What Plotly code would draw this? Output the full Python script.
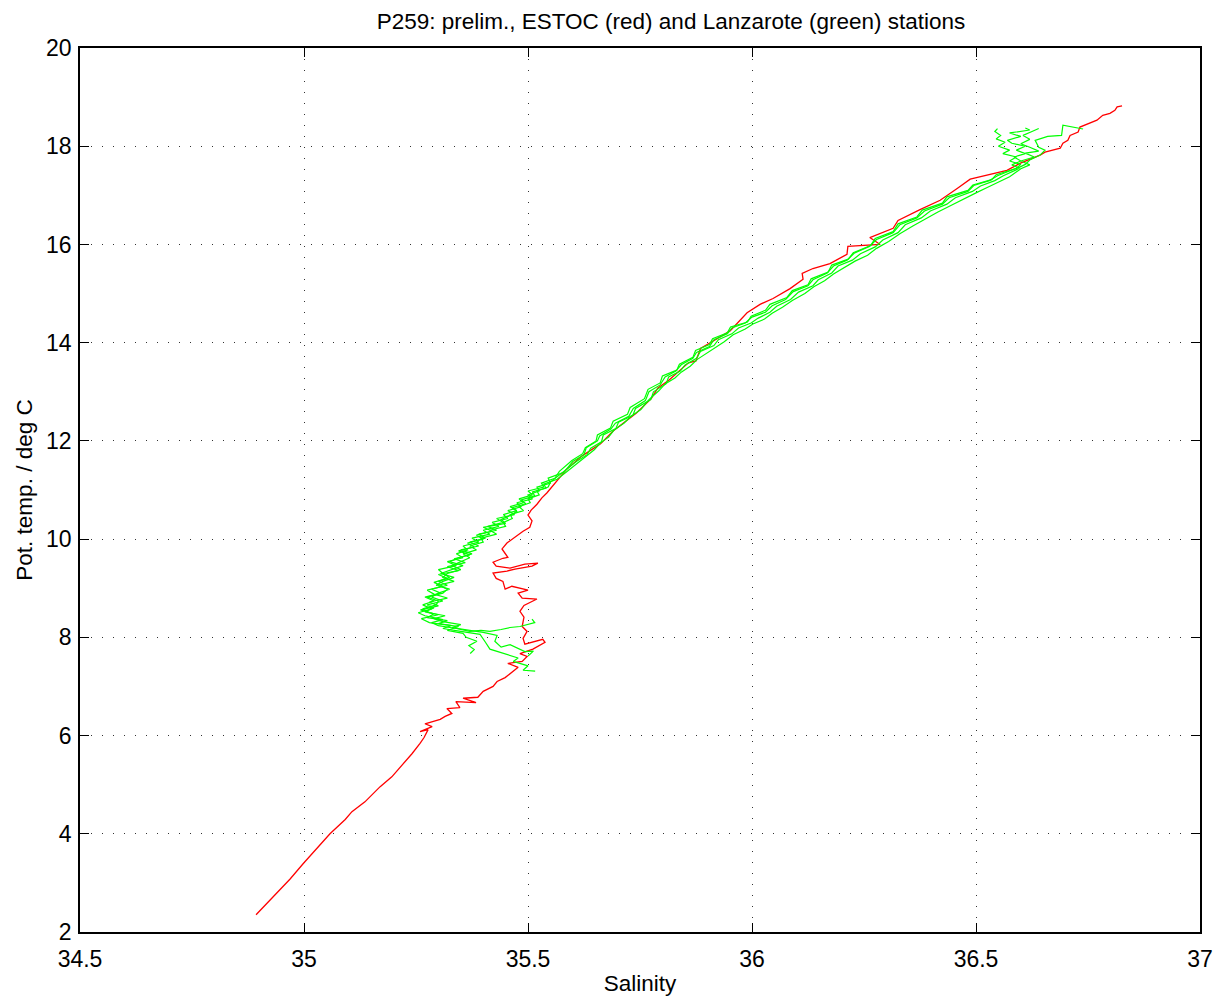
import plotly.graph_objects as go

# ---------------- data ----------------
# ESTOC station (red)
red_S = [34.893, 34.924, 34.969, 34.998, 35.031, 35.058, 35.092, 35.107, 35.136, 35.170,
         35.196, 35.221, 35.241, 35.259, 35.268, 35.277, 35.259, 35.286, 35.270, 35.304,
         35.315, 35.330, 35.319, 35.348, 35.339, 35.384, 35.355, 35.388, 35.400, 35.422,
         35.431, 35.449, 35.467, 35.478, 35.455, 35.487, 35.498, 35.482, 35.511, 35.538,
         35.533, 35.493, 35.489, 35.498, 35.487, 35.491, 35.482, 35.491, 35.520, 35.487,
         35.478, 35.500, 35.464, 35.449, 35.444, 35.429, 35.422, 35.453, 35.471, 35.509,
         35.522, 35.493, 35.460, 35.429, 35.422, 35.444, 35.455, 35.442, 35.453, 35.467,
         35.489, 35.504, 35.509, 35.500, 35.507, 35.520, 35.531, 35.542, 35.556, 35.571,
         35.585, 35.620, 35.662, 35.690, 35.742, 35.775, 35.790, 35.815, 35.858, 35.875,
         35.885, 35.922, 35.951, 35.989, 36.018, 36.047, 36.085, 36.114, 36.112, 36.136,
         36.174, 36.212, 36.214, 36.286, 36.263, 36.315, 36.326, 36.375, 36.420, 36.458,
         36.487, 36.569, 36.598, 36.643, 36.654, 36.688, 36.694, 36.705, 36.710, 36.728,
         36.732, 36.770, 36.783, 36.799, 36.810, 36.815, 36.826]
red_T = [2.35, 2.65, 3.08, 3.39, 3.73, 4.00, 4.29, 4.45, 4.65, 4.96,
         5.16, 5.41, 5.63, 5.84, 5.96, 6.12, 6.08, 6.18, 6.24, 6.33,
         6.39, 6.45, 6.55, 6.57, 6.69, 6.67, 6.76, 6.78, 6.90, 7.00,
         7.10, 7.18, 7.31, 7.39, 7.47, 7.51, 7.61, 7.67, 7.76, 7.90,
         7.96, 7.86, 7.98, 8.12, 8.22, 8.41, 8.53, 8.65, 8.78, 8.80,
         8.90, 8.96, 9.04, 8.98, 9.14, 9.20, 9.31, 9.35, 9.39, 9.45,
         9.51, 9.49, 9.41, 9.45, 9.53, 9.61, 9.63, 9.80, 9.92, 10.02,
         10.16, 10.24, 10.37, 10.49, 10.59, 10.71, 10.84, 10.94, 11.10, 11.27,
         11.41, 11.69, 11.94, 12.20, 12.57, 12.86, 13.08, 13.24, 13.59, 13.63,
         13.88, 14.08, 14.24, 14.61, 14.78, 14.90, 15.10, 15.29, 15.41, 15.51,
         15.61, 15.80, 15.96, 16.00, 16.14, 16.33, 16.49, 16.71, 16.90, 17.14,
         17.33, 17.51, 17.65, 17.82, 17.88, 17.96, 18.06, 18.12, 18.22, 18.29,
         18.39, 18.53, 18.63, 18.67, 18.73, 18.80, 18.82]

# Lanzarote stations (green), four casts
g1_S = [35.516, 35.489, 35.500, 35.467, 35.478, 35.453, 35.430, 35.415, 35.405, 35.393,
        35.350, 35.310, 35.330, 35.280, 35.262, 35.300, 35.270, 35.290, 35.275, 35.310,
        35.285, 35.300, 35.325, 35.295, 35.310, 35.335, 35.305, 35.330, 35.355, 35.325,
        35.345, 35.375, 35.350, 35.390, 35.370, 35.405, 35.390, 35.430, 35.410, 35.445,
        35.430, 35.470, 35.455, 35.485, 35.475, 35.510, 35.500, 35.525, 35.520, 35.550,
        35.545, 35.580,
        35.600, 35.625, 35.630, 35.655, 35.660, 35.685, 35.695, 35.725, 35.735, 35.762,
        35.770, 35.795, 35.806, 35.830, 35.842, 35.868, 35.876, 35.905, 35.915, 35.945,
        35.955, 35.985, 36.000, 36.030, 36.045, 36.075, 36.092, 36.125, 36.136, 36.168,
        36.182, 36.212, 36.228, 36.262, 36.278, 36.315, 36.330, 36.368, 36.385, 36.425,
        36.440, 36.482, 36.495, 36.530, 36.548, 36.590,
        36.600, 36.575, 36.590, 36.560, 36.575, 36.550, 36.565, 36.545, 36.555, 36.542, 36.548]
g1_T = [7.31, 7.33, 7.42, 7.51, 7.58, 7.65, 7.72, 7.76, 7.90, 8.06,
        8.12, 8.18, 8.24, 8.30, 8.38, 8.46, 8.52, 8.60, 8.66, 8.74,
        8.82, 8.90, 8.98, 9.06, 9.14, 9.22, 9.30, 9.38, 9.46, 9.54,
        9.62, 9.70, 9.78, 9.86, 9.94, 10.02, 10.10, 10.18, 10.26, 10.34,
        10.42, 10.50, 10.58, 10.66, 10.74, 10.82, 10.90, 10.98, 11.06, 11.14,
        11.24, 11.36,
        11.58, 11.72, 11.86, 12.00, 12.10, 12.24, 12.36, 12.50, 12.66, 12.82,
        13.00, 13.14, 13.30, 13.42, 13.55, 13.68, 13.80, 13.92, 14.06, 14.18,
        14.30, 14.40, 14.52, 14.62, 14.75, 14.88, 15.04, 15.16, 15.28, 15.42,
        15.56, 15.68, 15.82, 15.96, 16.10, 16.24, 16.40, 16.54, 16.68, 16.82,
        16.95, 17.08, 17.20, 17.30, 17.40, 17.55,
        17.63, 17.70, 17.78, 17.85, 17.92, 18.00, 18.08, 18.15, 18.22, 18.30, 18.36]

g2_S = [35.371, 35.380, 35.368, 35.386, 35.362, 35.355, 35.320, 35.345, 35.300, 35.320,
        35.275, 35.290, 35.260, 35.300, 35.280, 35.320, 35.290, 35.275, 35.310, 35.290,
        35.320, 35.300, 35.345, 35.320, 35.360, 35.335, 35.370, 35.345, 35.380, 35.365,
        35.400, 35.385, 35.420, 35.400, 35.450, 35.440, 35.460, 35.475, 35.465, 35.495,
        35.485, 35.515, 35.510, 35.540, 35.535, 35.565, 35.585,
        35.612, 35.630, 35.648, 35.662, 35.680, 35.692, 35.714, 35.730, 35.752, 35.770,
        35.792, 35.806, 35.828, 35.842, 35.862, 35.878, 35.898, 35.915, 35.938, 35.958,
        35.985, 36.002, 36.028, 36.045, 36.068, 36.090, 36.118, 36.138, 36.162, 36.182,
        36.208, 36.230, 36.258, 36.278, 36.305, 36.330, 36.360, 36.386, 36.415, 36.445,
        36.472, 36.500, 36.525, 36.552, 36.575, 36.600,
        36.620, 36.600, 36.630, 36.610, 36.640, 36.620, 36.600, 36.620, 36.605, 36.625, 36.640]
g2_T = [7.67, 7.75, 7.83, 7.92, 8.00, 8.08, 8.14, 8.22, 8.28, 8.34,
        8.40, 8.48, 8.56, 8.64, 8.72, 8.80, 8.88, 8.96, 9.04, 9.12,
        9.20, 9.28, 9.36, 9.44, 9.52, 9.60, 9.68, 9.76, 9.84, 9.92,
        10.00, 10.08, 10.16, 10.24, 10.32, 10.40, 10.48, 10.56, 10.64, 10.72,
        10.80, 10.88, 10.96, 11.04, 11.12, 11.22, 11.36,
        11.56, 11.70, 11.82, 11.96, 12.08, 12.22, 12.36, 12.50, 12.64, 12.84,
        13.02, 13.16, 13.28, 13.40, 13.52, 13.66, 13.78, 13.90, 14.02, 14.16,
        14.28, 14.38, 14.48, 14.60, 14.72, 14.86, 15.00, 15.14, 15.26, 15.40,
        15.54, 15.66, 15.78, 15.92, 16.06, 16.22, 16.38, 16.52, 16.66, 16.80,
        16.93, 17.05, 17.16, 17.28, 17.38, 17.54,
        17.62, 17.70, 17.78, 17.86, 17.90, 17.98, 18.05, 18.14, 18.22, 18.30, 18.36]

g3_S = [35.509, 35.515, 35.482, 35.460, 35.440, 35.415, 35.395, 35.370, 35.340, 35.300,
        35.285, 35.310, 35.270, 35.255, 35.285, 35.265, 35.290, 35.270, 35.305, 35.285,
        35.320, 35.300, 35.325, 35.310, 35.300, 35.340, 35.320, 35.355, 35.340, 35.365,
        35.355, 35.390, 35.375, 35.415, 35.400, 35.435, 35.420, 35.455, 35.445, 35.475,
        35.460, 35.490, 35.480, 35.510, 35.500, 35.535, 35.530, 35.560, 35.570,
        35.598, 35.622, 35.628, 35.652, 35.655, 35.684, 35.690, 35.722, 35.728, 35.760,
        35.768, 35.795, 35.800, 35.832, 35.838, 35.868, 35.874, 35.905, 35.912, 35.945,
        35.952, 35.990, 35.998, 36.030, 36.040, 36.078, 36.090, 36.125, 36.132, 36.170,
        36.178, 36.215, 36.226, 36.265, 36.275, 36.315, 36.326, 36.368, 36.380, 36.425,
        36.435, 36.482, 36.493, 36.535, 36.545, 36.594,
        36.610, 36.620, 36.643, 36.654, 36.640, 36.632, 36.660, 36.691, 36.694, 36.739]
g3_T = [8.37, 8.30, 8.22, 8.20, 8.16, 8.12, 8.14, 8.12, 8.18, 8.24,
        8.30, 8.36, 8.44, 8.50, 8.58, 8.66, 8.74, 8.82, 8.90, 8.98,
        9.06, 9.14, 9.22, 9.30, 9.38, 9.46, 9.54, 9.62, 9.70, 9.78,
        9.86, 9.94, 10.02, 10.10, 10.18, 10.26, 10.34, 10.42, 10.50, 10.58,
        10.66, 10.74, 10.82, 10.90, 10.98, 11.06, 11.14, 11.24, 11.38,
        11.60, 11.74, 11.86, 12.00, 12.12, 12.26, 12.40, 12.54, 12.68, 12.86,
        13.05, 13.18, 13.32, 13.44, 13.56, 13.70, 13.84, 13.96, 14.08, 14.20,
        14.32, 14.42, 14.54, 14.66, 14.78, 14.92, 15.06, 15.18, 15.30, 15.44,
        15.58, 15.70, 15.83, 15.98, 16.12, 16.26, 16.42, 16.56, 16.70, 16.84,
        16.97, 17.10, 17.21, 17.32, 17.42, 17.56,
        17.63, 17.72, 17.82, 17.92, 17.98, 18.12, 18.20, 18.22, 18.43, 18.35]

g4_S = [35.500, 35.512, 35.493, 35.470, 35.460, 35.440, 35.426, 35.431, 35.400, 35.370,
        35.330, 35.350, 35.310, 35.290, 35.315, 35.280, 35.265, 35.295, 35.300, 35.275,
        35.310, 35.320, 35.300, 35.335, 35.310, 35.320, 35.350, 35.330, 35.350, 35.370,
        35.355, 35.385, 35.370, 35.400, 35.395, 35.430, 35.415, 35.450, 35.445, 35.465,
        35.460, 35.490, 35.480, 35.505, 35.500, 35.525, 35.520, 35.545, 35.550, 35.575,
        35.608, 35.632, 35.640, 35.664, 35.668, 35.696, 35.702, 35.734, 35.740, 35.774,
        35.780, 35.808, 35.814, 35.840, 35.850, 35.876, 35.885, 35.915, 35.925, 35.955,
        35.970, 35.998, 36.014, 36.040, 36.055, 36.086, 36.104, 36.136, 36.148, 36.178,
        36.192, 36.224, 36.242, 36.275, 36.292, 36.326, 36.342, 36.378, 36.398, 36.435,
        36.454, 36.492, 36.510, 36.542, 36.561, 36.597,
        36.580, 36.600, 36.585, 36.610, 36.590, 36.610, 36.580, 36.570, 36.600, 36.575,
        36.620, 36.610]
g4_T = [7.62, 7.72, 7.71, 7.80, 7.85, 7.80, 7.92, 8.04, 8.10, 8.14,
        8.20, 8.26, 8.32, 8.38, 8.44, 8.50, 8.58, 8.66, 8.74, 8.82,
        8.90, 8.98, 9.06, 9.14, 9.22, 9.30, 9.38, 9.46, 9.54, 9.62,
        9.70, 9.78, 9.86, 9.94, 10.02, 10.10, 10.18, 10.26, 10.34, 10.42,
        10.50, 10.58, 10.66, 10.74, 10.82, 10.90, 10.98, 11.06, 11.16, 11.34,
        11.58, 11.72, 11.85, 11.98, 12.12, 12.25, 12.38, 12.52, 12.66, 12.84,
        13.00, 13.16, 13.30, 13.42, 13.54, 13.68, 13.82, 13.94, 14.06, 14.18,
        14.30, 14.40, 14.50, 14.62, 14.74, 14.88, 15.03, 15.16, 15.28, 15.42,
        15.56, 15.68, 15.81, 15.95, 16.09, 16.24, 16.40, 16.54, 16.68, 16.82,
        16.95, 17.08, 17.19, 17.30, 17.40, 17.55,
        17.62, 17.70, 17.78, 17.85, 17.92, 18.00, 18.06, 18.12, 18.20, 18.27,
        18.33, 18.37]

green_casts = [(g1_S, g1_T), (g2_S, g2_T), (g3_S, g3_T), (g4_S, g4_T)]

x_ticks = [34.5, 35, 35.5, 36, 36.5, 37]
x_tick_text = ["34.5", "35", "35.5", "36", "36.5", "37"]
y_ticks = [2, 4, 6, 8, 10, 12, 14, 16, 18, 20]

title_text = "P259: prelim., ESTOC (red) and Lanzarote (green) stations"
x_label = "Salinity"
y_label = "Pot. temp. / deg C"

# ---------------- figure ----------------
FONT = "Liberation Sans, Arial, Helvetica, sans-serif"
fig = go.Figure()

fig.add_trace(go.Scatter(x=red_S, y=red_T, mode="lines",
                         line=dict(color="#ff0000", width=1.3),
                         showlegend=False, hoverinfo="skip"))
for s, t in green_casts:
    fig.add_trace(go.Scatter(x=s, y=t, mode="lines",
                             line=dict(color="#00ff00", width=1.2),
                             showlegend=False, hoverinfo="skip"))

axis_common = dict(
    showline=True, linecolor="black", linewidth=1.5, mirror="ticks",
    ticks="inside", ticklen=9, tickwidth=1, tickcolor="black",
    showgrid=True, gridcolor="#333333", gridwidth=1, griddash="1px,10px",
    zeroline=False, tickfont=dict(family=FONT, size=23, color="black"),
)

fig.update_xaxes(range=[34.5, 37], tickvals=x_ticks, ticktext=x_tick_text,
                 ticklabelstandoff=6,
                 title=dict(text=x_label, font=dict(family=FONT, size=22.5, color="black"),
                            standoff=4),
                 **axis_common)
fig.update_yaxes(range=[2, 20], tickvals=y_ticks,
                 ticklabelstandoff=2,
                 title=dict(text=y_label, font=dict(family=FONT, size=22.5, color="black"),
                            standoff=7),
                 **axis_common)

fig.update_layout(
    width=1225, height=1001,
    margin=dict(l=80, r=25, t=48, b=69, autoexpand=False),
    paper_bgcolor="white", plot_bgcolor="white",
    title=dict(text=title_text, x=671 / 1225, xanchor="center",
               y=1 - 21 / 1001, yanchor="middle", yref="container",
               font=dict(family=FONT, size=22.5, color="black")),
    font=dict(family=FONT, size=22, color="black"),
)

fig.write_html("out.html")
